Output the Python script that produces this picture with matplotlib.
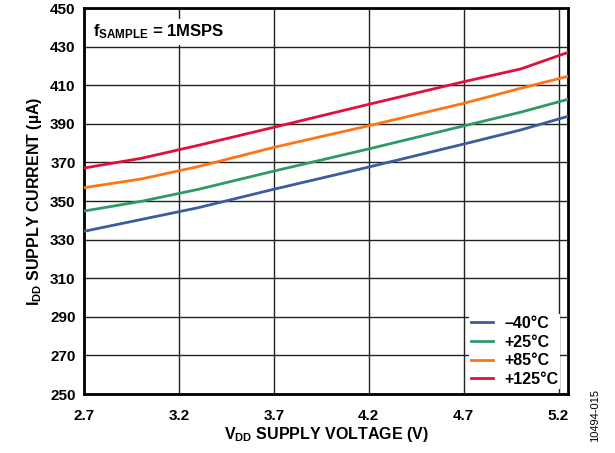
import matplotlib
matplotlib.use('Agg')
import matplotlib.pyplot as plt

plt.rcParams['font.family'] = ['Liberation Sans', 'DejaVu Sans']
plt.rcParams['font.weight'] = 'bold'
plt.rcParams['mathtext.fontset'] = 'custom'
plt.rcParams['mathtext.rm'] = 'Liberation Sans:bold'
plt.rcParams['mathtext.bf'] = 'Liberation Sans:bold'
plt.rcParams['mathtext.it'] = 'Liberation Sans:bold'

vdd = [2.7, 3.0, 3.3, 3.7, 4.2, 4.7, 5.0, 5.25]
idd_m40 = [334.3, 340.4, 346.5, 356.1, 367.6, 379.5, 386.8, 393.9]
idd_p25 = [344.8, 349.8, 356.0, 365.5, 377.0, 388.9, 396.0, 402.7]
idd_p85 = [356.9, 361.4, 367.8, 377.8, 389.0, 400.6, 408.4, 414.6]
idd_p125 = [367.1, 372.1, 378.8, 388.2, 400.1, 411.8, 418.4, 427.0]

labels = ['\u201340°C', '+25°C', '+85°C', '+125°C']
colors = ['#3D5C9E', '#2E9A68', '#FF7417', '#E0103C']

xticks = [2.7, 3.2, 3.7, 4.2, 4.7, 5.2]
yticks = list(range(250, 451, 20))

fig = plt.figure(figsize=(6.15, 4.53), dpi=100)
ax = fig.add_axes([0.1366, 0.1302, 0.7870, 0.8521])

for ys, lab, c in zip([idd_m40, idd_p25, idd_p85, idd_p125], labels, colors):
    ax.plot(vdd, ys, color=c, lw=2.0, label=lab, zorder=3)

ax.set_xlim(2.7, 5.25)
ax.set_ylim(250, 450)
ax.set_xticks(xticks)
ax.set_yticks(yticks)
ax.set_xticklabels([f'{v:.1f}' for v in xticks])
ax.tick_params(length=0, labelsize=11, pad=6)
ax.tick_params(axis='x', pad=11)
ax.grid(True, color='#222222', lw=1.0, zorder=1)
ax.set_axisbelow(True)
for s in ax.spines.values():
    s.set_linewidth(2.0)
    s.set_color('black')

ax.set_xlabel('V$_{DD}$ SUPPLY VOLTAGE (V)', fontsize=11.5, fontweight='bold', labelpad=1)
ax.set_ylabel('I$_{DD}$ SUPPLY CURRENT (µA)', fontsize=11.5, fontweight='bold', labelpad=4.5)

ax.text(0.019, 0.938, 'f$_{SAMPLE}$ = 1MSPS', transform=ax.transAxes, fontsize=12,
        fontweight='bold', va='center', ha='left', zorder=4,
        bbox=dict(facecolor='white', edgecolor='none', pad=2.5))

leg = ax.legend(loc='lower right', bbox_to_anchor=(0.983, 0.014), borderaxespad=0,
                frameon=True, fancybox=False, framealpha=1, edgecolor='none',
                handlelength=1.4, handletextpad=0.7, labelspacing=0.23,
                borderpad=0.1, prop={'size': 11.5, 'weight': 'bold'})
leg.set_zorder(5)

fig.text(0.9675, 0.082, '10494-015', rotation=90, fontsize=8, fontweight='normal',
         ha='center', va='center')

fig.savefig('out.png', dpi=100)
